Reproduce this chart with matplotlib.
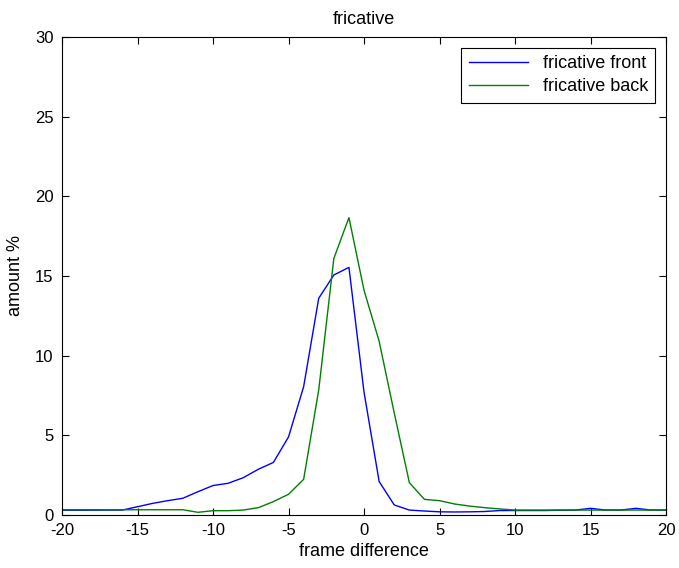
import numpy as np
import matplotlib.pyplot as plt

plt.rcParams['font.family'] = ['Liberation Sans', 'DejaVu Sans']
plt.rcParams['axes.unicode_minus'] = False

frames = np.arange(-20, 21)
front = [0.30, 0.30, 0.30, 0.31, 0.31, 0.52, 0.73, 0.90, 1.05, 1.46, 1.85, 1.99, 2.34, 2.87, 3.30, 4.90,
         8.05, 13.6, 15.06, 15.54, 7.7, 2.1, 0.63, 0.31, 0.25, 0.20, 0.19, 0.20, 0.22, 0.28, 0.28, 0.28,
         0.28, 0.30, 0.31, 0.42, 0.31, 0.31, 0.42, 0.31, 0.31]
back = [0.33, 0.33, 0.33, 0.33, 0.33, 0.33, 0.33, 0.33, 0.33, 0.17, 0.27, 0.27, 0.31, 0.46, 0.84, 1.30,
        2.24, 7.85, 16.1, 18.66, 14.1, 10.9, 6.4, 2.03, 0.98, 0.90, 0.69, 0.56, 0.46, 0.38, 0.31, 0.31,
        0.31, 0.31, 0.31, 0.31, 0.31, 0.31, 0.31, 0.31, 0.31]

fig = plt.figure(figsize=(6.79, 5.68), dpi=100)
ax = fig.add_axes([0.0913, 0.0933, 0.8897, 0.8417])
ax.plot(frames, front, color='#0000ff', lw=1, label='fricative front')
ax.plot(frames, back, color='#008000', lw=1, label='fricative back')
ax.set_xlim(-20, 20)
ax.set_ylim(0, 30)
ax.set_xticks(range(-20, 21, 5))
ax.set_yticks(range(0, 31, 5))
ax.tick_params(direction='in', top=True, right=True, labelsize=12, length=5)
ax.tick_params(axis='y', pad=6)
ax.tick_params(axis='x', pad=6)
ax.set_xlabel('frame difference', fontsize=13, labelpad=3)
ax.set_ylabel('amount %', fontsize=13, labelpad=8)
ax.set_title('fricative', fontsize=13, pad=9)
leg = ax.legend(loc='upper right', fontsize=13, fancybox=False, framealpha=1,
                edgecolor='black', handlelength=3.3, borderaxespad=0.6,
                labelspacing=0.35, borderpad=0.4)
leg.get_frame().set_linewidth(0.8)
fig.savefig('out.png', dpi=100)
